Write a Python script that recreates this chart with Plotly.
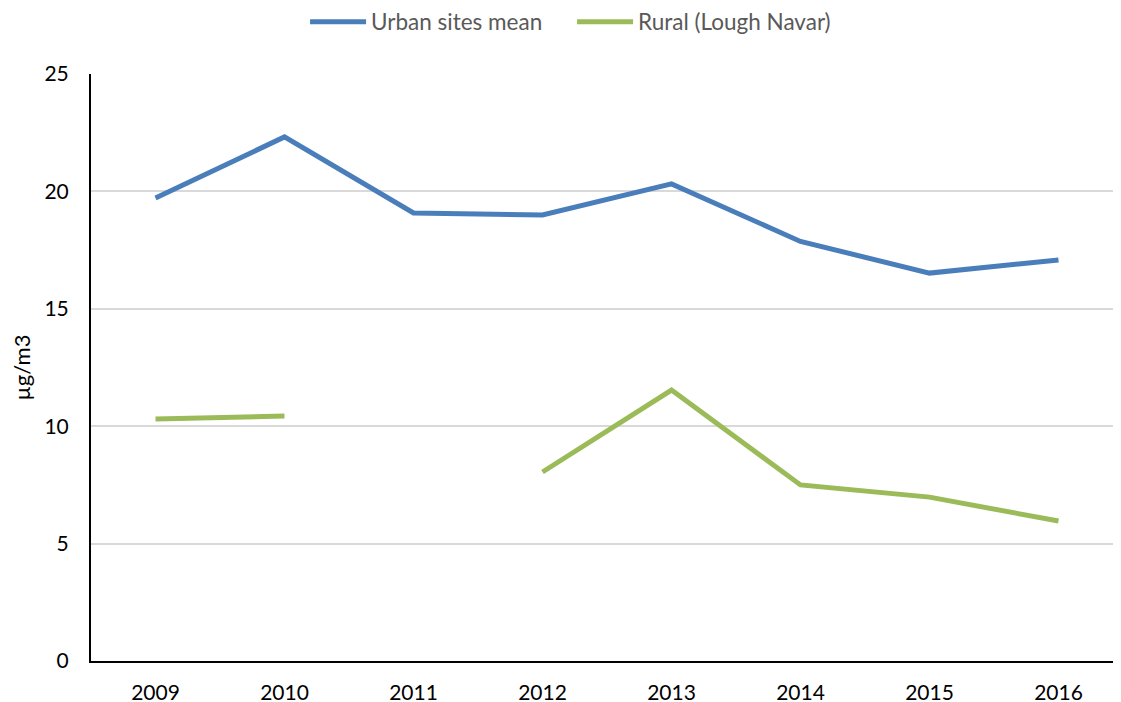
import plotly.graph_objects as go

years = ["2009", "2010", "2011", "2012", "2013", "2014", "2015", "2016"]
urban = [19.72, 22.32, 19.08, 19.0, 20.32, 17.87, 16.52, 17.08]
rural = [10.31, 10.43, None, 8.05, 11.54, 7.50, 6.98, 5.96]

fig = go.Figure()
fig.add_trace(go.Scatter(x=years, y=urban, mode="lines", name="Urban sites mean",
                         line=dict(color="#4A7EBB", width=5), connectgaps=False))
fig.add_trace(go.Scatter(x=years, y=rural, mode="lines", name="Rural (Lough Navar)",
                         line=dict(color="#9BBB59", width=5), connectgaps=False))

fig.update_layout(
    width=1121, height=702,
    margin=dict(l=83, r=6, t=66, b=49, autoexpand=False),
    paper_bgcolor="white", plot_bgcolor="white",
    font=dict(family="Lato, Carlito, Calibri, sans-serif", size=21, color="black"),
    legend=dict(orientation="h", xref="container", x=0.265, xanchor="left",
                y=0.98, yanchor="middle", yref="container",
                font=dict(color="#595959", size=22.5), itemwidth=56,
                traceorder="normal", entrywidth=196, entrywidthmode="pixels"),
    xaxis=dict(type="category", range=[-0.5, 7.5], showgrid=False, showline=True,
               linecolor="black", linewidth=2, ticks="", tickfont=dict(size=21),
               ticklabelstandoff=12, automargin=False),
    yaxis=dict(range=[0, 25], dtick=5, showgrid=True, gridcolor="#D9D9D9", gridwidth=2,
               showline=True, linecolor="black", linewidth=2, zeroline=False,
               ticks="", ticklabelstandoff=16, tickfont=dict(size=21), automargin=False,
               title=dict(text="µg/m3", font=dict(size=22), standoff=10)),
)
fig.write_html("out.html")
